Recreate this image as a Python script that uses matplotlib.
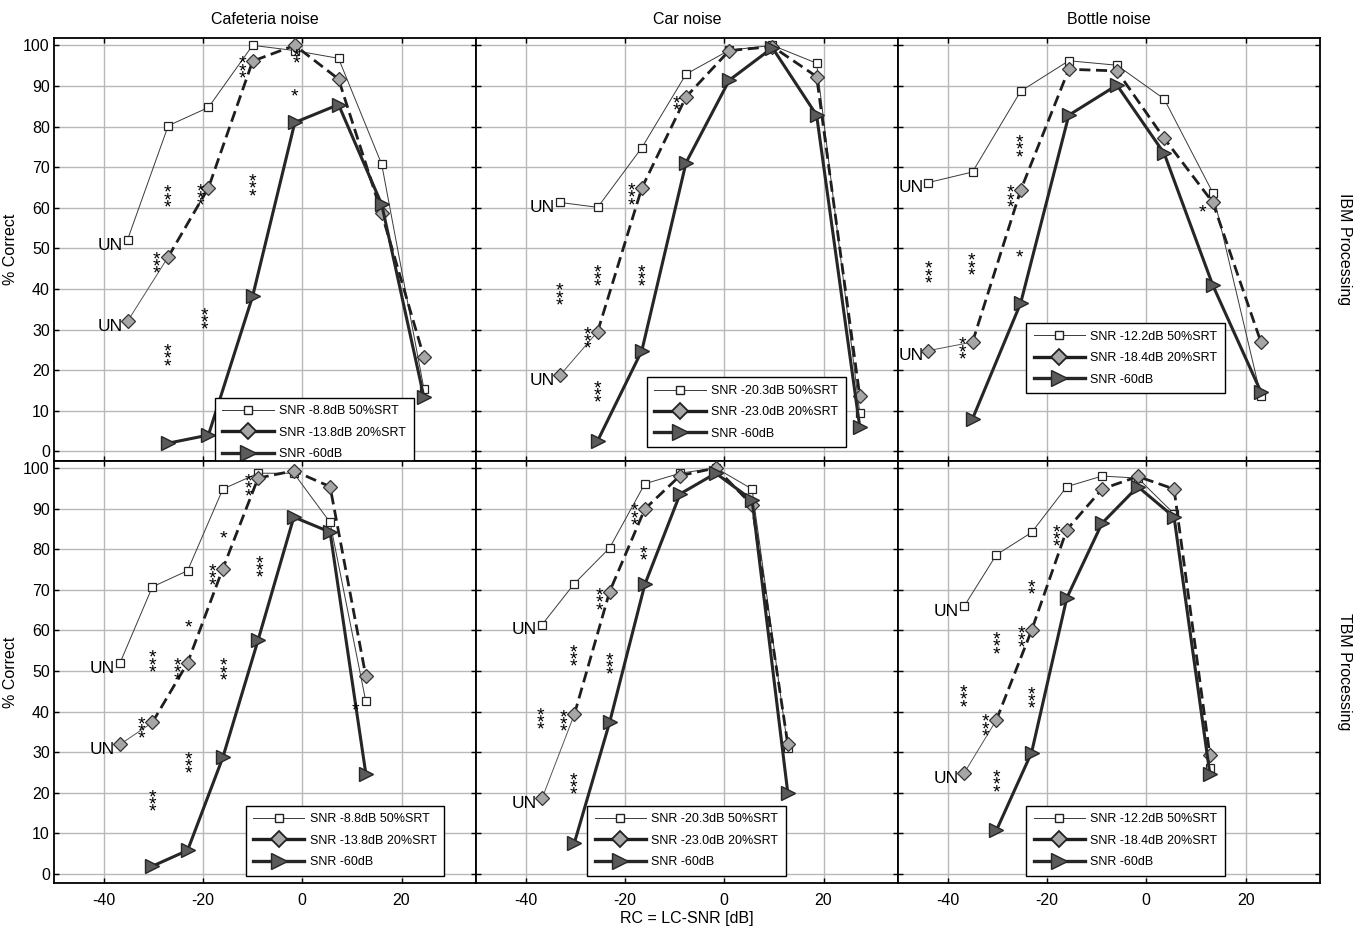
import matplotlib
matplotlib.use('Agg')
import matplotlib.pyplot as plt
from matplotlib.lines import Line2D

plt.rcParams['font.family'] = ['Liberation Sans', 'DejaVu Sans']
plt.rcParams['axes.unicode_minus'] = False

# RC positions [dB] per noise type (IBM row) and shared RC positions for TBM row
rc_ibm_cafeteria = [-35.2, -27.0, -18.9, -10.0, -1.5, 7.3, 16.0, 24.5]
rc_ibm_car = [-33.1, -25.5, -16.6, -7.7, 1.0, 9.7, 18.6, 27.3]
rc_ibm_bottle = [-43.9, -35.0, -25.3, -15.6, -5.9, 3.6, 13.4, 23.1]
rc_tbm = [-36.7, -30.2, -23.1, -16.0, -8.9, -1.7, 5.6, 12.8]

# % correct, IBM processing (the -60dB series has no value at the first RC)
ibm_caf_50 = [52.1, 80.2, 84.7, 100.0, 98.7, 96.8, 70.7, 15.4]
ibm_caf_20 = [32.0, 47.9, 64.9, 96.1, 100.0, 91.7, 58.6, 23.2]
ibm_caf_60 = [2.0, 4.0, 38.2, 81.0, 85.4, 60.8, 13.3]

ibm_car_50 = [61.3, 60.1, 74.8, 92.9, 98.8, 100.0, 95.6, 9.4]
ibm_car_20 = [18.7, 29.5, 64.9, 87.3, 98.7, 99.7, 92.3, 13.5]
ibm_car_60 = [2.6, 24.8, 71.1, 91.4, 99.4, 82.8, 5.9]

ibm_bot_50 = [66.2, 68.8, 88.7, 96.2, 95.1, 86.8, 63.7, 13.5]
ibm_bot_20 = [24.8, 26.9, 64.3, 94.1, 93.7, 77.1, 61.3, 26.9]
ibm_bot_60 = [8.0, 36.5, 82.8, 90.2, 73.4, 40.9, 14.6]

# % correct, TBM processing
tbm_caf_50 = [52.0, 70.7, 74.7, 94.8, 98.7, 98.7, 86.6, 42.5]
tbm_caf_20 = [31.9, 37.3, 52.0, 75.2, 97.5, 99.3, 95.4, 48.7]
tbm_caf_60 = [1.9, 5.8, 28.7, 57.6, 87.9, 84.2, 24.7]

tbm_car_50 = [61.4, 71.5, 80.3, 96.1, 98.7, 100.0, 94.8, 31.1]
tbm_car_20 = [18.6, 39.3, 69.5, 89.9, 98.1, 100.0, 90.9, 31.9]
tbm_car_60 = [7.6, 37.3, 71.3, 93.6, 98.7, 92.1, 19.9]

tbm_bot_50 = [65.9, 78.6, 84.1, 95.4, 98.0, 97.5, 88.7, 26.0]
tbm_bot_20 = [24.8, 37.9, 60.0, 84.8, 94.8, 97.9, 94.8, 29.3]
tbm_bot_60 = [10.7, 29.9, 68.0, 86.4, 95.4, 87.9, 24.7]

# significance marks: (rc, % correct, number of stars)
sig_ibm_caf = [(-27.1, 63.3, 3), (-20.5, 63.7, 3), (-10.0, 66.1, 3), (-29.4, 47.0, 3),
               (-19.7, 33.2, 3), (-27.1, 24.2, 3), (-12.1, 95.1, 3), (-1.1, 97.9, 2),
               (-1.5, 88.8, 1)]
sig_ibm_car = [(-9.6, 86.3, 2), (-18.6, 63.9, 3), (-25.5, 43.8, 3), (-16.6, 43.8, 3),
               (-33.1, 39.2, 3), (-27.5, 28.5, 3), (-25.5, 15.2, 3)]
sig_ibm_bot = [(-25.5, 75.7, 3), (-27.4, 63.3, 3), (-35.2, 46.6, 3), (-43.9, 44.6, 3),
               (-25.5, 49.1, 1), (-37.1, 25.9, 3), (11.4, 60.4, 1)]
sig_tbm_caf = [(-10.8, 96.3, 3), (-15.8, 84.2, 1), (-18.0, 74.2, 3), (-8.6, 76.2, 3),
               (-23.0, 62.1, 1), (-30.2, 52.9, 3), (-25.2, 51.0, 3), (-15.9, 50.9, 3),
               (-32.4, 36.5, 3), (-23.0, 27.9, 3), (-30.2, 18.5, 3), (10.7, 41.6, 1)]
sig_tbm_car = [(-18.0, 89.1, 3), (-16.2, 79.5, 2), (-25.2, 68.2, 3), (-30.3, 54.3, 3),
               (-23.2, 52.3, 3), (-37.0, 38.7, 3), (-32.3, 38.3, 3), (-30.3, 22.8, 3)]
sig_tbm_bot = [(-18.1, 83.8, 3), (-23.2, 71.1, 2), (-25.2, 59.0, 3), (-30.2, 57.4, 3),
               (-36.8, 44.3, 3), (-23.2, 43.9, 3), (-32.4, 37.1, 3), (-30.2, 23.4, 3)]

titles = ['Cafeteria noise', 'Car noise', 'Bottle noise']
row_labels = ['IBM Processing', 'TBM Processing']
snr_labels = [
    ['SNR -8.8dB 50%SRT', 'SNR -13.8dB 20%SRT', 'SNR -60dB'],
    ['SNR -20.3dB 50%SRT', 'SNR -23.0dB 20%SRT', 'SNR -60dB'],
    ['SNR -12.2dB 50%SRT', 'SNR -18.4dB 20%SRT', 'SNR -60dB'],
]

panels = [
    [(rc_ibm_cafeteria, ibm_caf_50, ibm_caf_20, ibm_caf_60, sig_ibm_caf),
     (rc_ibm_car, ibm_car_50, ibm_car_20, ibm_car_60, sig_ibm_car),
     (rc_ibm_bottle, ibm_bot_50, ibm_bot_20, ibm_bot_60, sig_ibm_bot)],
    [(rc_tbm, tbm_caf_50, tbm_caf_20, tbm_caf_60, sig_tbm_caf),
     (rc_tbm, tbm_car_50, tbm_car_20, tbm_car_60, sig_tbm_car),
     (rc_tbm, tbm_bot_50, tbm_bot_20, tbm_bot_60, sig_tbm_bot)],
]

# legend upper-left corner, axes fraction
legend_pos = [[(0.381, 0.149), (0.405, 0.197), (0.3035, 0.325)],
              [(0.454, 0.183), (0.263, 0.183), (0.3035, 0.183)]]

thin_c = '#3a3a3a'
thick_c = '#1e1e1e'

fig = plt.figure(figsize=(13.61, 9.32), dpi=100)
gs = fig.add_gridspec(2, 3, left=0.0397, right=0.9699, top=0.9592, bottom=0.0523,
                      wspace=0, hspace=0)

for r in range(2):
    for c in range(3):
        ax = fig.add_subplot(gs[r, c])
        rc, s50, s20, s60, sig = panels[r][c]

        ax.plot(rc, s50, '-', color=thin_c, lw=0.7, marker='s', ms=6,
                mfc='white', mec='#222222', mew=0.9, zorder=3)
        ax.plot(rc[:2], s20[:2], '-', color='#555555', lw=0.7, zorder=3)
        ax.plot(rc[1:], s20[1:], '--', color=thick_c, lw=2.0, dashes=(4, 2), zorder=4)
        ax.plot(rc, s20, ls='none', marker='D', ms=7.5, mfc='#a6a6a6',
                mec='#333333', mew=0.9, zorder=5)
        ax.plot(rc[1:], s60, '-', color='#262626', lw=2.2, marker='>', ms=10,
                mfc='#5a5a5a', mec='#262626', mew=1.0, zorder=6)

        ax.text(rc[0] - 1.0, s50[0] - 1.3, 'UN', ha='right', va='center', fontsize=12.5)
        ax.text(rc[0] - 1.0, s20[0] - 1.3, 'UN', ha='right', va='center', fontsize=12.5)

        # stacked asterisks; offset pulls the ink centre onto the anchor
        for sx, sy, n in sig:
            ax.annotate('\n'.join('*' * n), (sx, sy), xytext=(0, -4.6),
                        textcoords='offset points', ha='center', va='center',
                        fontsize=14, linespacing=0.25, zorder=7)

        ax.set_xlim(-50, 35)
        ax.set_ylim(-2.3, 101.8)
        ax.set_xticks([-40, -20, 0, 20])
        ax.set_yticks(range(0, 101, 10))
        ax.grid(color='#b8b8b8', lw=1.0)
        ax.set_axisbelow(True)
        ax.tick_params(direction='in', top=True, right=True, length=3.5,
                       labelsize=11.5, width=1.0)
        ax.tick_params(axis='x', pad=7)
        ax.tick_params(axis='y', pad=3)
        for sp in ax.spines.values():
            sp.set_linewidth(1.3)

        if r == 0:
            ax.set_xticklabels([])
            ax.set_title(titles[c], fontsize=11.5, pad=10)
        if c > 0:
            ax.set_yticklabels([])
        if c == 0:
            ax.set_ylabel('% Correct', fontsize=11.5)
            ax.yaxis.set_label_coords(-0.085, 0.5)
        if c == 2:
            ax.text(1.059, 0.5, row_labels[r], rotation=-90, ha='center', va='center',
                    fontsize=11.5, transform=ax.transAxes)
        if r == 1 and c == 1:
            ax.set_xlabel('RC = LC-SNR [dB]', fontsize=11.5)
            ax.xaxis.set_label_coords(0.5, -0.066)

        handles = [
            Line2D([], [], color=thin_c, lw=0.7, marker='s', ms=6, mfc='white', mec='#222222'),
            Line2D([], [], color=thick_c, lw=2.4, marker='D', ms=8, mfc='#a6a6a6',
                   mec='#222222', mew=1.3),
            Line2D([], [], color='#262626', lw=2.4, marker='>', ms=11, mfc='#5a5a5a',
                   mec='#262626'),
        ]
        leg = ax.legend(handles, snr_labels[c], loc='upper left',
                        bbox_to_anchor=legend_pos[r][c], fontsize=9, handlelength=4.1,
                        handletextpad=0.45, borderpad=0.6, labelspacing=0.75,
                        borderaxespad=0, fancybox=False, edgecolor='black',
                        framealpha=1, numpoints=1)
        leg.get_frame().set_linewidth(1.0)
        leg.set_zorder(8)

fig.savefig('out.png', dpi=100)
